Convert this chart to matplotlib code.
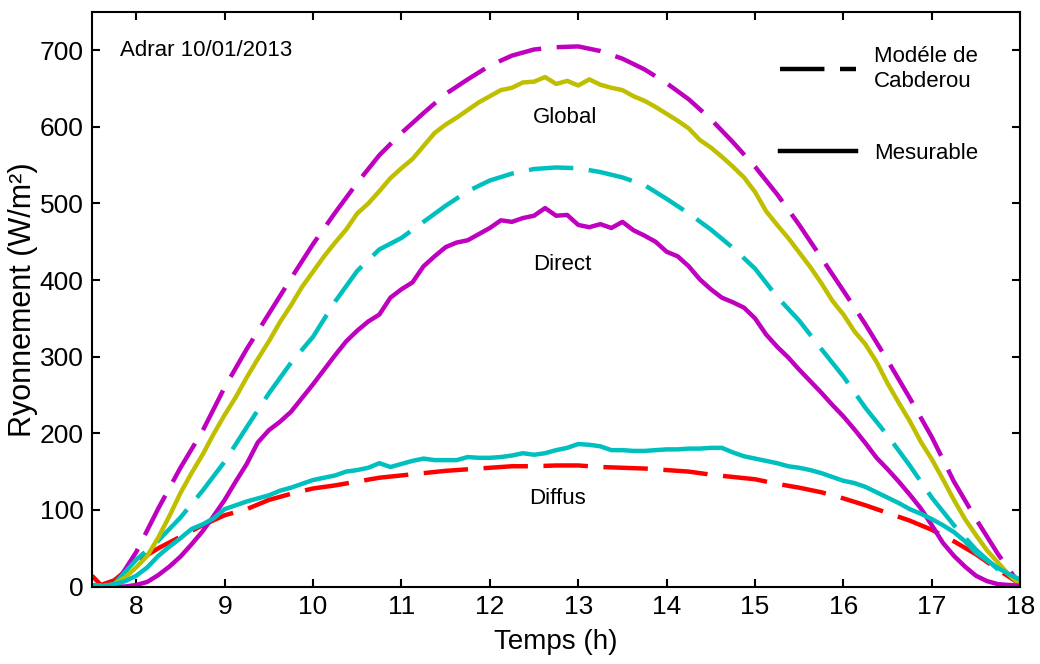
import matplotlib
matplotlib.use("Agg")
import matplotlib.pyplot as plt
from matplotlib.lines import Line2D
import numpy as np

plt.rcParams["font.family"] = ["Liberation Sans", "DejaVu Sans"]

# model curves (Cabderou), 0.25 h steps
t_model = [7.75, 8.0, 8.25, 8.5, 8.75, 9.0, 9.25, 9.5, 9.75, 10.0, 10.25, 10.5, 10.75,
           11.0, 11.25, 11.5, 11.75, 12.0, 12.25, 12.5, 12.75, 13.0, 13.25, 13.5, 13.75,
           14.0, 14.25, 14.5, 14.75, 15.0, 15.25, 15.5, 15.75, 16.0, 16.25, 16.5, 16.75,
           17.0, 17.25, 17.5, 17.75, 18.0]
global_model = [0, 45, 102, 155, 203, 260, 310, 356, 402, 447, 488, 527, 563,
                592, 618, 643, 662, 680, 693, 701, 704, 705, 699, 689, 675,
                657, 636, 610, 580, 548, 512, 472, 429, 386, 342, 295, 246,
                195, 137, 88, 42, 2]
direct_model = [3, 35, 60, 90, 125, 163, 208, 252, 292, 326, 372, 412, 440,
                455, 476, 497, 516, 530, 539, 545, 547, 546, 541, 534, 524,
                506, 487, 466, 442, 415, 378, 347, 310, 274, 233, 197, 158,
                116, 80, 48, 22, 5]

t_diff_model = [7.5, 7.6] + t_model
diffus_model = [14, 2, 8, 32, 50, 65, 80, 93, 101, 113, 121, 128, 132, 137, 142,
                145, 148, 151, 153, 155, 157, 157, 158, 158, 156, 155, 154,
                152, 150, 146, 143, 140, 134, 129, 123, 115, 106, 96, 86,
                74, 59, 42, 22, 3]

# measured curves, 0.125 h steps from 7.5 to 18
t_mes = np.arange(7.5, 18.0001, 0.125)
global_mes = [0, 0, 3, 12, 25, 40, 64, 92, 122, 148, 172, 199, 224, 247, 273, 297,
              320, 345, 367, 391, 411, 431, 449, 466, 487, 500, 516, 533, 546, 558,
              575, 592, 603, 612, 622, 632, 640, 648, 651, 658, 659, 665, 656, 660,
              654, 662, 655, 651, 648, 640, 634, 626, 617, 608, 598, 583, 573, 561,
              548, 534, 515, 490, 472, 455, 436, 417, 396, 373, 355, 333, 316, 293,
              265, 240, 216, 189, 166, 140, 113, 88, 67, 47, 31, 15, 3]
direct_mes = [0, 0, 0, 0, 2, 6, 15, 26, 39, 55, 72, 92, 113, 137, 160, 188,
              204, 215, 228, 246, 264, 283, 302, 320, 334, 346, 355, 377, 388, 397,
              418, 431, 443, 449, 452, 460, 468, 478, 476, 481, 484, 494, 484, 485,
              472, 469, 473, 468, 476, 465, 458, 450, 437, 431, 418, 401, 388, 377,
              371, 364, 350, 329, 313, 299, 283, 268, 253, 237, 222, 205, 187, 168,
              153, 137, 120, 102, 80, 57, 40, 26, 14, 7, 3, 2, 1]
diffus_mes = [2, 1, 3, 7, 14, 25, 40, 52, 63, 75, 81, 89, 101, 106, 111, 115,
              119, 125, 129, 134, 139, 142, 145, 150, 152, 155, 161, 156, 160, 164,
              167, 165, 165, 165, 169, 168, 168, 169, 171, 174, 172, 174, 178, 181,
              186, 185, 183, 178, 178, 177, 177, 178, 179, 179, 180, 180, 181, 181,
              175, 170, 167, 164, 161, 157, 155, 152, 148, 143, 138, 135, 130, 123,
              116, 109, 101, 95, 88, 80, 71, 59, 44, 34, 24, 16, 9]

MAG = "#BF00BF"
YEL = "#BFBF00"
CYA = "#00BFBF"
RED = "#FF0000"
DASH = (10, 3.5)
LW = 3.2

fig = plt.figure(figsize=(10.4, 6.64), dpi=100)
ax = fig.add_axes([0.0885, 0.1167, 0.8925, 0.8653])

ax.axhline(0, color="#007F00", lw=2, zorder=1)

ax.plot(t_diff_model, diffus_model, color=RED, lw=LW, dashes=DASH)
ax.plot(t_model, global_model, color=MAG, lw=LW, dashes=DASH)
ax.plot(t_model, direct_model, color=CYA, lw=LW, dashes=DASH)
ax.plot(t_mes, global_mes, color=YEL, lw=LW)
ax.plot(t_mes, direct_mes, color=MAG, lw=LW)
ax.plot(t_mes, diffus_mes, color=CYA, lw=LW)

ax.set_xlim(7.5, 18)
ax.set_ylim(0, 750)
ax.set_xticks(range(8, 19))
ax.set_yticks(range(0, 701, 100))
ax.tick_params(direction="in", top=True, right=True, length=6, width=1.5,
               labelsize=19, pad=6)
for s in ax.spines.values():
    s.set_linewidth(1.5)

ax.set_xlabel("Temps (h)", fontsize=20, labelpad=7)
ax.set_ylabel("Ryonnement (W/m²)", fontsize=22, labelpad=1)

ax.text(7.82, 700, "Adrar 10/01/2013", fontsize=16, va="center", ha="left")
ax.text(12.85, 612, "Global", fontsize=16, ha="center", va="center")
ax.text(12.82, 420, "Direct", fontsize=16, ha="center", va="center")
ax.text(12.77, 115, "Diffus", fontsize=16, ha="center", va="center")

handles = [Line2D([], [], color="black", lw=LW, dashes=DASH),
           Line2D([], [], color="black", lw=LW)]
ax.legend(handles, ["Modéle de\nCabderou", "Mesurable"], loc="upper left",
          bbox_to_anchor=(0.72, 0.975), frameon=False, fontsize=16,
          handlelength=3.4, handletextpad=0.8, labelspacing=2.3)

fig.savefig("out.png", dpi=100)
